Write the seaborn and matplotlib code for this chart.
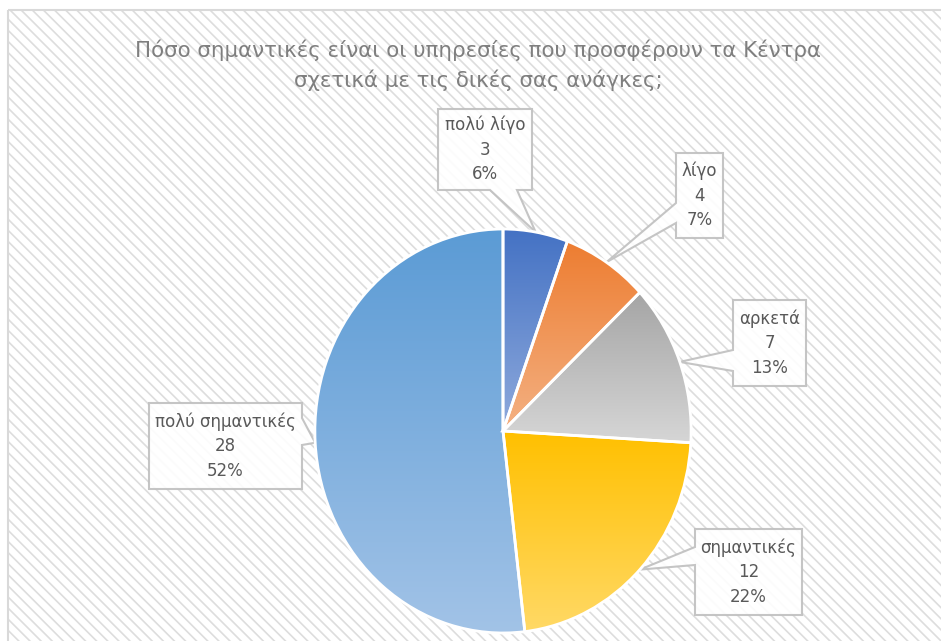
import numpy as np
import matplotlib
matplotlib.use('Agg')
import matplotlib.pyplot as plt
from matplotlib.patches import Rectangle, Polygon
from matplotlib.colors import LinearSegmentedColormap
import seaborn as sns

title = "Πόσο σημαντικές είναι οι υπηρεσίες που προσφέρουν τα Κέντρα\nσχετικά με τις δικές σας ανάγκες;"
categories = ['πολύ λίγο', 'λίγο', 'αρκετά', 'σημαντικές', 'πολύ σημαντικές']
counts = [3, 4, 7, 12, 28]
top_colors = ['#4472C4', '#ED7D31', '#A5A5A5', '#FFC000', '#5B9BD5']
bottom_colors = ['#8FAADC', '#F4B183', '#D6D6D6', '#FFD966', '#A2C3E7']

# callout boxes in pixels (left, top, right, bottom), pointer side, pointer base
boxes = [((438, 109, 532, 190), 'bottom', (490, 517)),
         ((676, 153, 723, 238), 'left', (203, 223)),
         ((733, 300, 806, 386), 'left', (350, 371)),
         ((695, 529, 802, 615), 'left', (547, 565)),
         ((149, 403, 302, 489), 'right', (418, 445))]

sns.set_theme(style='white')
plt.rcParams['font.family'] = ['DejaVu Sans']
plt.rcParams['hatch.linewidth'] = 1.2

W, H = 941, 641
fig = plt.figure(figsize=(W / 100, H / 100), dpi=100)

# background with hatch + frame, pixel coordinates
bg = fig.add_axes([0, 0, 1, 1])
bg.set_xlim(0, W)
bg.set_ylim(H, 0)
bg.axis('off')
bg.add_patch(Rectangle((8, 10), W, H, facecolor='white', edgecolor='#DDDDDD',
                       hatch='\\\\\\', lw=0))
bg.add_patch(Rectangle((8, 10), W, H, facecolor='none', edgecolor='#D9D9D9', lw=1.5))

fig.text(478 / W, 1 - 65 / H, title, ha='center', va='center', fontsize=15.4,
         color='#7F7F7F', linespacing=1.5)

# pie
ax = fig.add_axes([313 / W, 6 / H, 380 / W, 408 / H])
wedges, _ = ax.pie(counts, startangle=90, counterclock=False, radius=1,
                   wedgeprops=dict(lw=2, edgecolor='white', facecolor='none'))
grad = np.linspace(0, 1, 256).reshape(-1, 1)
for w, c0, c1 in zip(wedges, bottom_colors, top_colors):
    w.set_facecolor('none')
    w.set_zorder(3)
    ext = w.get_path().get_extents()
    cmap = LinearSegmentedColormap.from_list('g', [c0, c1])
    im = ax.imshow(grad, cmap=cmap, origin='lower', aspect='auto',
                   extent=(ext.x0, ext.x1, ext.y0, ext.y1), zorder=2)
    im.set_clip_path(w)
ax.set_xlim(-1.01, 1.01)
ax.set_ylim(-1.01, 1.01)
ax.set_aspect('auto')
ax.axis('off')

total = sum(counts)
theta1 = 90.0
inv = bg.transData.inverted()
for cat, n, (box, side, base) in zip(categories, counts, boxes):
    span = 360.0 * n / total
    mid = np.deg2rad(theta1 - span / 2)
    theta1 -= span
    tip = inv.transform(ax.transData.transform((np.cos(mid), np.sin(mid))))
    tip = (tip[0], tip[1])
    l, t, r, b = box
    b0, b1 = base
    if side == 'bottom':
        pts = [(l, t), (r, t), (r, b), (b1, b), tip, (b0, b), (l, b)]
    elif side == 'left':
        pts = [(l, t), (r, t), (r, b), (l, b), (l, b1), tip, (l, b0)]
    else:
        pts = [(l, t), (r, t), (r, b0), tip, (r, b1), (r, b), (l, b)]
    bg.add_patch(Polygon(pts, closed=True, facecolor='white', alpha=0.9,
                         edgecolor='#BFBFBF', lw=1.5, zorder=5))
    pct = round(100 * n / total)
    bg.text((l + r) / 2, (t + b) / 2, f"{cat}\n{n}\n{pct}%", ha='center', va='center',
            fontsize=12, color='#595959', linespacing=1.45, zorder=6)

fig.savefig('out.png', dpi=100)
